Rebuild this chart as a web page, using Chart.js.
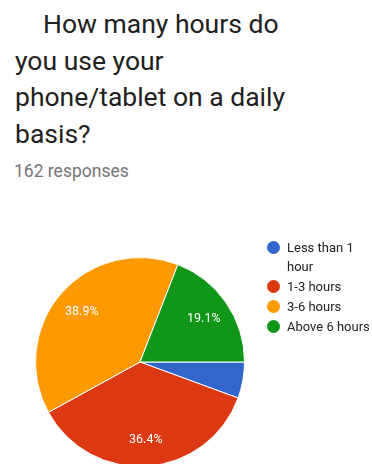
<!DOCTYPE html>
<html>
<head>
<meta charset="utf-8">
<script src="https://cdn.jsdelivr.net/npm/chart.js@4.4.0/dist/chart.umd.min.js"></script>
<style>
  html, body { margin:0; padding:0; width:372px; height:464px; overflow:hidden; background:#fff; font-family: Roboto, "Noto Sans", sans-serif; }
  #title { position:absolute; left:15px; top:6px; width:340px; font-size:26.5px; line-height:36.5px; color:#212121; }
  #title .indent { padding-left:28px; }
  #sub { position:absolute; left:14px; top:161px; font-size:17.5px; color:#757575; }
  #wrap { position:absolute; left:0; top:250px; width:372px; height:230px; }
  #legend { position:absolute; left:267px; top:238px; font-size:13px; color:#222; }
  .li { position:relative; padding-left:20px; line-height:19px; margin-bottom:1px; }
  .dot { position:absolute; left:0; top:3px; width:13px; height:13px; border-radius:50%; }
</style>
</head>
<body>
<div id="title"><span class="indent">How many hours do</span><br>you use your<br>phone/tablet on a daily<br>basis?</div>
<div id="sub">162 responses</div>
<div id="wrap"><canvas id="c"></canvas></div>
<div id="legend"></div>
<script>
const categories = ["Less than 1\nhour", "1-3 hours", "3-6 hours", "Above 6 hours"];
const percentages = [5.6, 36.4, 38.9, 19.1];
const colors = ["#3366cc", "#dc3912", "#ff9900", "#109618"];

// HTML legend built from the arrays
const leg = document.getElementById('legend');
categories.forEach((c, i) => {
  const d = document.createElement('div');
  d.className = 'li';
  const dot = document.createElement('span');
  dot.className = 'dot';
  dot.style.background = colors[i];
  d.appendChild(dot);
  c.split('\n').forEach((line, j) => {
    if (j) d.appendChild(document.createElement('br'));
    d.appendChild(document.createTextNode(line));
  });
  leg.appendChild(d);
});

const labelPlugin = {
  id: 'sliceLabels',
  afterDatasetsDraw(chart) {
    const ctx = chart.ctx;
    const meta = chart.getDatasetMeta(0);
    ctx.save();
    ctx.fillStyle = '#ffffff';
    ctx.font = '12.5px Roboto, "Noto Sans", sans-serif';
    ctx.textAlign = 'center';
    ctx.textBaseline = 'middle';
    meta.data.forEach((arc, i) => {
      const v = percentages[i];
      if (v < 10) return;
      const p = arc.getProps(['x','y','startAngle','endAngle','outerRadius']);
      const mid = (p.startAngle + p.endAngle) / 2;
      const r = p.outerRadius * 0.74;
      ctx.fillText(v.toFixed(1) + '%', p.x + Math.cos(mid) * r, p.y + Math.sin(mid) * r + 1);
    });
    ctx.restore();
  }
};

new Chart(document.getElementById('c'), {
  type: 'pie',
  data: {
    labels: categories,
    datasets: [{
      data: percentages,
      backgroundColor: colors,
      borderColor: '#ffffff',
      borderWidth: 1
    }]
  },
  options: {
    responsive: true,
    maintainAspectRatio: false,
    animation: false,
    rotation: 90,
    layout: { padding: { left: 35, right: 127, top: 7, bottom: 13 } },
    plugins: { legend: { display: false }, tooltip: { enabled: false } }
  },
  plugins: [labelPlugin]
});
</script>
</body>
</html>
